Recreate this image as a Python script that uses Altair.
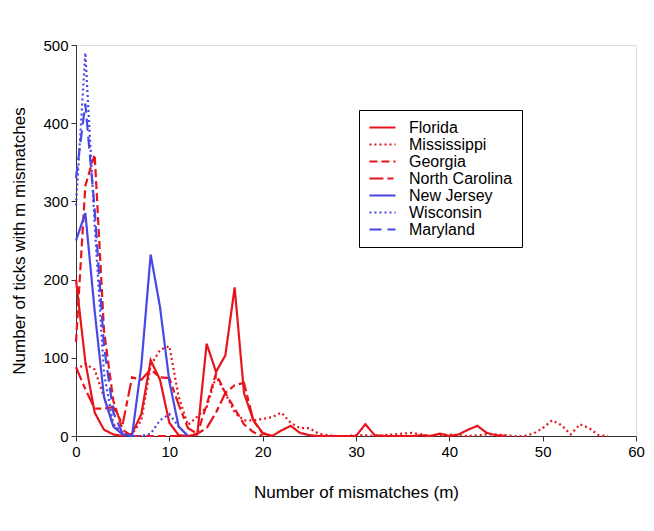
import altair as alt
import pandas as pd

# Values at m = 0, 1, 2, ... (index = number of mismatches)
florida = [200, 95, 30, 8, 2, 0, 3, 28, 97, 72, 17, 1, 0, 2, 118, 82, 103, 190, 55, 20,
           4, 0, 7, 13, 4, 1, 0, 0, 0, 0, 0, 15, 1, 0, 0, 0, 0, 1, 0, 3,
           0, 2, 8, 13, 4, 1, 0]
mississippi = [85, 92, 85, 50, 15, 3, 2, 20, 90, 110, 115, 50, 14, 25, 37, 76, 55, 30, 20, 20,
               22, 24, 30, 17, 10, 10, 3, 1, 0, 0, 1, 1, 0, 1, 2, 3, 4, 2, 0, 1,
               2, 1, 0, 1, 2, 2, 1, 0, 0, 3, 10, 20, 14, 2, 15, 10, 1, 0]
georgia = [120, 320, 360, 135, 45, 8, 0, 0, 0, 0, 0, 0, 0, 3, 40, 80, 55, 35, 15, 5, 0]
north_carolina = [88, 60, 35, 35, 37, 15, 75, 72, 85, 75, 74, 40, 10, 3, 10, 30, 55, 65, 68, 20, 3, 0]
new_jersey = [250, 285, 160, 50, 12, 2, 0, 90, 232, 165, 70, 12, 0]
wisconsin = [295, 490, 270, 80, 15, 2, 0, 0, 3, 20, 28, 12, 0]
maryland = [330, 425, 290, 115, 30, 3, 0]

states = ["Florida", "Mississippi", "Georgia", "North Carolina", "New Jersey", "Wisconsin", "Maryland"]
series = [florida, mississippi, georgia, north_carolina, new_jersey, wisconsin, maryland]
colors = ["#e8141c", "#e8141c", "#e8141c", "#e8141c", "#4747e6", "#4747e6", "#4747e6"]
dashes = [[1, 0], [2, 3], [8, 4], [14, 4, 6, 4], [1, 0], [2, 3], [12, 6]]

x_ticks = [0, 10, 20, 30, 40, 50, 60]
y_ticks = [0, 100, 200, 300, 400, 500]

rows = []
for name, vals in zip(states, series):
    for i, v in enumerate(vals):
        rows.append({"state": name, "m": i, "count": v})
df = pd.DataFrame(rows)

FONT = "Liberation Sans"

legend = alt.Legend(
    title=None, orient="none", legendX=283, legendY=65,
    padding=9, strokeColor="black", fillColor="white",
    labelFont=FONT, labelFontSize=16, labelColor="black", labelOffset=12,
    symbolType="stroke", symbolSize=680, symbolStrokeWidth=2,
    clipHeight=17, rowPadding=0,
)

axis_common = dict(grid=False, domainColor="#333333", tickColor="#333333", tickSize=5,
                   labelFont=FONT, labelFontSize=15, labelColor="black", labelPadding=3,
                   labelFlush=False,
                   titleFont=FONT, titleFontSize=17, titleFontWeight="normal",
                   titleColor="black", titleBaseline="alphabetic")

chart = alt.Chart(df).mark_line(strokeWidth=2.2, strokeCap="butt").encode(
    x=alt.X("m:Q", scale=alt.Scale(domain=[0, 60], nice=False, zero=False),
            axis=alt.Axis(values=x_ticks, title="Number of mismatches (m)", titleY=61,
                          **axis_common)),
    y=alt.Y("count:Q", scale=alt.Scale(domain=[0, 500], nice=False),
            axis=alt.Axis(values=y_ticks, title="Number of ticks with m mismatches", titleX=-52,
                          **axis_common)),
    color=alt.Color("state:N", scale=alt.Scale(domain=states, range=colors), legend=legend),
    strokeDash=alt.StrokeDash("state:N", scale=alt.Scale(domain=states, range=dashes), legend=legend),
).properties(
    width=560, height=391,
    padding={"left": 68, "top": 37, "right": 10, "bottom": 80},
    autosize=alt.AutoSizeParams(type="none"),
).configure_view(stroke=None).configure(background="white")

chart.save("out.html", embed_options={"renderer": "svg", "actions": False})
